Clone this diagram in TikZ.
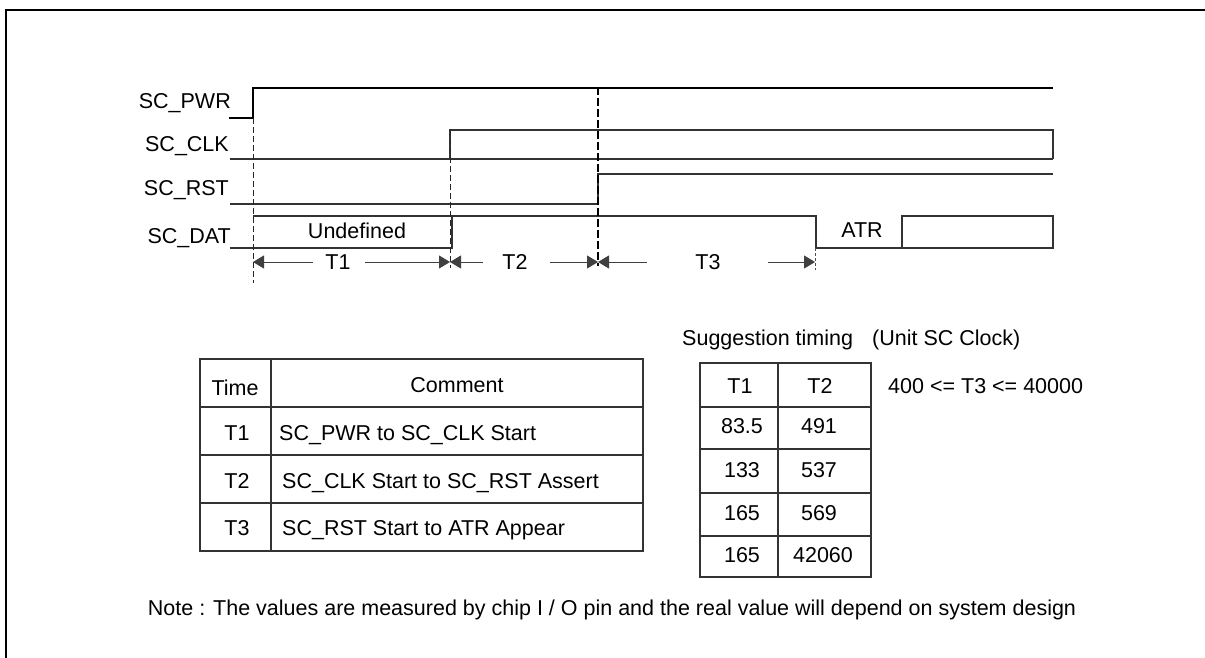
\documentclass[tikz,border=0pt]{standalone}
\usepackage{fontspec}
\setmainfont{Liberation Sans}
\usetikzlibrary{arrows.meta}
\begin{document}
\begin{tikzpicture}[x=1pt,y=-1pt,
  font=\fontsize{21.5}{25}\selectfont,
  sig/.style={line width=1.2pt, draw=black!80},
  hi/.style={line width=1.2pt, draw=black},
  guide/.style={line width=1pt, draw=black!85, dash pattern=on 6pt off 3pt},
  thickguide/.style={line width=2.8pt, draw=black, dash pattern=on 8pt off 3pt},
  dimln/.style={line width=1pt, draw=black!75},
  tip/.style={line width=1pt, draw=black!75, -{Triangle[length=11pt,width=13pt]}},
  lbl/.style={anchor=base east, inner sep=0pt},
  txt/.style={anchor=base, inner sep=0pt},
  ltxt/.style={anchor=base west, inner sep=0pt},
  grid/.style={line width=1.2pt, draw=black!80},
  frame/.style={line width=2.5pt, draw=black}]
\useasboundingbox (0,0) rectangle (1205,658);
% frame
\coordinate (fa) at (6,658); \coordinate (fb) at (6,10); \coordinate (fc) at (1205,10);
\draw[frame] (fa) -- (fb) -- (fc);

% signal labels
\node[lbl] (lpwr) at (231,109) {SC\_PWR};
\node[lbl] (lclk) at (229,152) {SC\_CLK};
\node[lbl] (lrst) at (229,195) {SC\_RST};
\node[lbl] (ldat) at (231,243) {SC\_DAT};

% SC_PWR
\coordinate (p0) at (229,118); \coordinate (p1) at (253,118);
\coordinate (p2) at (253,88);  \coordinate (p3) at (1053,88);
\draw[hi] (p0) -- (p1) -- (p2) -- (p3);

% SC_CLK
\coordinate (c0) at (230,159); \coordinate (c1) at (450,159);
\coordinate (c2) at (450,130); \coordinate (c3) at (1053,130);
\coordinate (c4) at (1053,159);
\draw[sig] (c0) -- (c4);
\draw[sig] (c1) -- (c2) -- (c3) -- (c4);

% SC_RST
\coordinate (r0) at (230,204); \coordinate (r1) at (598,204);
\coordinate (r2) at (598,174); \coordinate (r3) at (1053,174);
\draw[sig] (r0) -- (r1) -- (r2) -- (r3);

% SC_DAT
\coordinate (d0) at (230,248); \coordinate (d1) at (452,248);
\coordinate (d2) at (452,216); \coordinate (d3) at (253,216);
\coordinate (d4) at (816,216); \coordinate (d5) at (816,248);
\coordinate (d6) at (1053,248);
\coordinate (a0) at (902,216); \coordinate (a1) at (1053,248);
\draw[sig] (d0) -- (d1) -- (d2);
\draw[sig] (d3) -- (d4) -- (d5) -- (d6);
\draw[sig] (a0) rectangle (a1);
\node[txt] (undef) at (357,238) {Undefined};
\node[txt] (atr) at (862,237) {ATR};

% guide lines
\coordinate (g1a) at (253,118); \coordinate (g1b) at (253,283);
\coordinate (g2a) at (450,130); \coordinate (g2b) at (450,268);
\coordinate (g3a) at (598,87);  \coordinate (g3b) at (598,266);
\coordinate (g4a) at (815,248); \coordinate (g4b) at (815,270);
\draw[guide] (g1a) -- (g1b);
\draw[guide] (g2a) -- (g2b);
\draw[thickguide] (g3a) -- (g3b);
\draw[line width=1pt, draw=black!70, dash pattern=on 3pt off 2pt] (g4a) -- (g4b);

% dimension arrows
\coordinate (x1a) at (253,262); \coordinate (x1b) at (313,262);
\coordinate (x1c) at (365,262); \coordinate (x1d) at (450,262);
\coordinate (x2a) at (450,262); \coordinate (x2b) at (483,262);
\coordinate (x2c) at (550,262); \coordinate (x2d) at (598,262);
\coordinate (x3a) at (598,262); \coordinate (x3b) at (647,262);
\coordinate (x3c) at (768,262); \coordinate (x3d) at (815,262);
\draw[tip] (x1b) -- (x1a);
\draw[tip] (x1c) -- (x1d);
\draw[tip] (x2b) -- (x2a);
\draw[tip] (x2c) -- (x2d);
\draw[tip] (x3b) -- (x3a);
\draw[tip] (x3c) -- (x3d);
\node[txt] (tt1) at (338,269) {T1};
\node[txt] (tt2) at (515,269) {T2};
\node[txt] (tt3) at (708,269) {T3};

% left table
\coordinate (L0) at (200,359); \coordinate (L1) at (643,551);
\draw[grid] (L0) rectangle (L1);
\coordinate (Lv0) at (271,359); \coordinate (Lv1) at (271,551);
\draw[grid] (Lv0) -- (Lv1);
\foreach \yy/\nm in {407/a,455/b,503/c}{
  \coordinate (Lh\nm0) at (200,\yy); \coordinate (Lh\nm1) at (643,\yy);
  \draw[grid] (Lh\nm0) -- (Lh\nm1);
}
\node[txt] (htime) at (235,395) {Time};
\node[txt] (hcomm) at (457,392) {Comment};
\node[txt] (lt1) at (237,440) {T1};
\node[txt] (lt2) at (237,488) {T2};
\node[txt] (lt3) at (237,535) {T3};
\node[ltxt] (lc1) at (279,440) {SC\_PWR to SC\_CLK Start};
\node[ltxt] (lc2) at (282,488) {SC\_CLK Start to SC\_RST Assert};
\node[ltxt] (lc3) at (282,535) {SC\_RST Start to ATR Appear};

% right table
\node[ltxt] (sugg) at (682,345) {Suggestion timing};
\node[ltxt] (unit) at (872,345) {(Unit SC Clock)};
\node[ltxt] (t3rng) at (888,393) {400 <= T3 <= 40000};
\coordinate (R0) at (700,363); \coordinate (R1) at (871,577);
\draw[grid] (R0) rectangle (R1);
\coordinate (Rv0) at (778,363); \coordinate (Rv1) at (778,577);
\draw[grid] (Rv0) -- (Rv1);
\foreach \yy/\nm in {407/a,449/b,493/c,536/d}{
  \coordinate (Rh\nm0) at (700,\yy); \coordinate (Rh\nm1) at (871,\yy);
  \draw[grid] (Rh\nm0) -- (Rh\nm1);
}
\node[txt] (rh1) at (740,393) {T1};
\node[txt] (rh2) at (820,393) {T2};
\node[txt] (ra1) at (742,433) {83.5};
\node[txt] (ra2) at (819,433) {491};
\node[txt] (rb1) at (742,477) {133};
\node[txt] (rb2) at (819,477) {537};
\node[txt] (rc1) at (742,520) {165};
\node[txt] (rc2) at (819,520) {569};
\node[txt] (rd1) at (742,562) {165};
\node[txt] (rd2) at (823,562) {42060};

% note
\node[txt] (note) at (612,615) {Note : The values are measured by chip I / O pin and the real value will depend on system design};
\end{tikzpicture}
\end{document}
